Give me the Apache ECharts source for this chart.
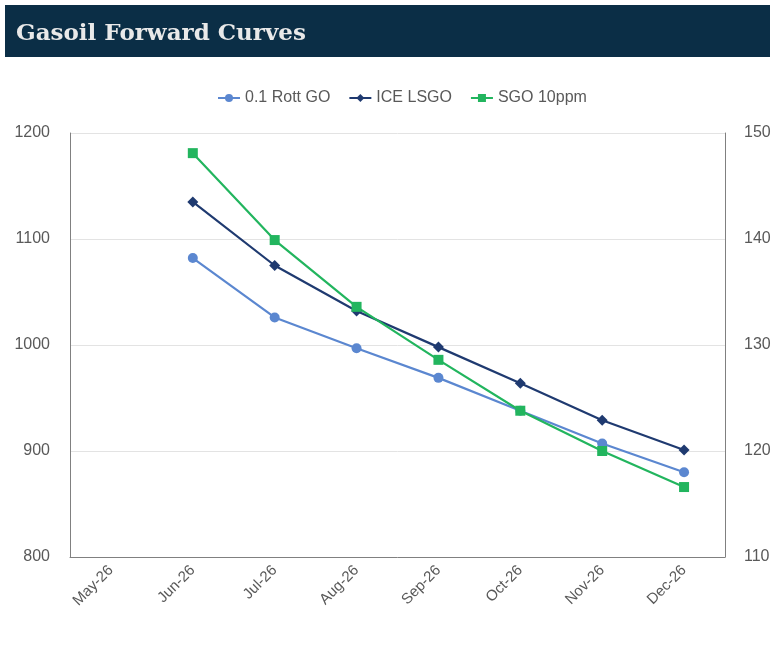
<!DOCTYPE html>
<html>
<head>
<meta charset="utf-8">
<script src="https://cdn.jsdelivr.net/npm/echarts@6/dist/echarts.min.js"></script>
<style>html,body{margin:0;padding:0;background:#fff;}#c{width:774px;height:647px;}</style>
</head>
<body>
<div id="c"></div>
<script>
const categories = ['May-26','Jun-26','Jul-26','Aug-26','Sep-26','Oct-26','Nov-26','Dec-26'];
const rottGO = [null, 1082, 1026, 997, 969, 938, 907, 880];
const iceLSGO = [null, 1135, 1075, 1032, 998, 964, 929, 901];
const sgo10ppm = [null, 148.1, 139.9, 133.6, 128.6, 123.8, 120.0, 116.6];
const leftTicks = [800, 900, 1000, 1100, 1200];
const rightTicks = [110, 120, 130, 140, 150];

const chart = echarts.init(document.getElementById('c'));
const labelColor = '#595959';
const axisLineColor = '#808080';
const sans = '"Liberation Sans", Arial, sans-serif';
chart.setOption({
  animation: false,
  backgroundColor: '#fff',
  graphic: [
    {type: 'rect', left: 5, top: 5, shape: {width: 765, height: 52}, style: {fill: '#0b2e46'}},
    {type: 'text', left: 16, top: 23, style: {text: 'Gasoil Forward Curves', fill: '#e9e9e9', font: 'bold 23px "DejaVu Serif"'}}
  ],
  legend: {
    top: 85, left: 212,
    itemWidth: 22, itemHeight: 10, itemGap: 18,
    textStyle: {color: labelColor, fontSize: 16, fontFamily: sans},
    data: ['0.1 Rott GO', 'ICE LSGO', 'SGO 10ppm']
  },
  grid: {left: 70, right: 49, top: 133, bottom: 90, containLabel: false, outerBoundsMode: 'none'},
  xAxis: {
    type: 'category', data: categories, boundaryGap: true,
    axisLine: {lineStyle: {color: axisLineColor, width: 1}},
    axisTick: {show: false},
    axisLabel: {rotate: 45, color: labelColor, fontSize: 15, fontFamily: sans, margin: 11, interval: 0}
  },
  yAxis: [
    {
      type: 'value', min: leftTicks[0], max: leftTicks[leftTicks.length-1], interval: 100,
      axisLine: {show: true, lineStyle: {color: axisLineColor, width: 1}},
      axisTick: {show: false},
      splitLine: {lineStyle: {color: '#e3e3e3', width: 1}},
      axisLabel: {color: labelColor, fontSize: 16, fontFamily: sans, margin: 20, formatter: v => String(v)}
    },
    {
      type: 'value', min: rightTicks[0], max: rightTicks[rightTicks.length-1], interval: 10,
      position: 'right',
      axisLine: {show: true, lineStyle: {color: axisLineColor, width: 1}},
      axisTick: {show: false},
      splitLine: {show: false},
      axisLabel: {color: labelColor, fontSize: 16, fontFamily: sans, margin: 19, formatter: v => String(v)}
    }
  ],
  series: [
    {
      name: '0.1 Rott GO', type: 'line', yAxisIndex: 0, data: rottGO,
      symbol: 'circle', symbolSize: 10,
      lineStyle: {color: '#5b87d0', width: 2.2}, itemStyle: {color: '#5b87d0'}
    },
    {
      name: 'ICE LSGO', type: 'line', yAxisIndex: 0, data: iceLSGO,
      symbol: 'diamond', symbolSize: 11,
      lineStyle: {color: '#1f3a70', width: 2.2}, itemStyle: {color: '#1f3a70'}
    },
    {
      name: 'SGO 10ppm', type: 'line', yAxisIndex: 1, data: sgo10ppm,
      symbol: 'rect', symbolSize: 10,
      lineStyle: {color: '#22b55e', width: 2.2}, itemStyle: {color: '#22b55e'}
    }
  ]
});
</script>
</body>
</html>
